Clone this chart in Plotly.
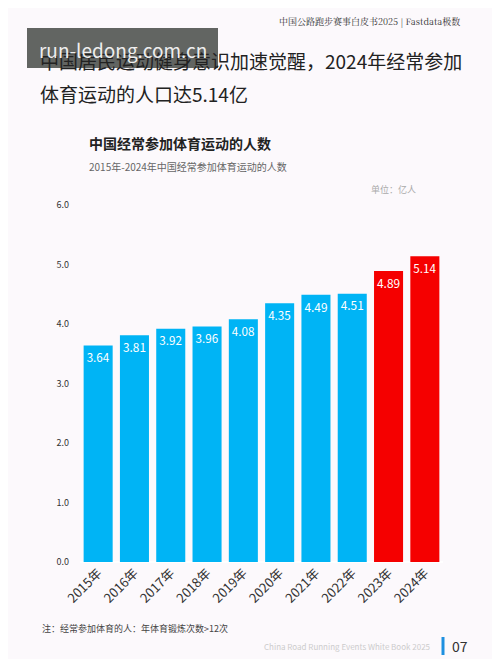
import plotly.graph_objects as go

years = ['2015年', '2016年', '2017年', '2018年', '2019年', '2020年', '2021年', '2022年', '2023年', '2024年']
values = [3.64, 3.81, 3.92, 3.96, 4.08, 4.35, 4.49, 4.51, 4.89, 5.14]
bar_colors = ['#00b4f5'] * 8 + ['#f50000'] * 2
tick_vals = [0, 1, 2, 3, 4, 5, 6]
tick_text = ['0.0', '1.0', '2.0', '3.0', '4.0', '5.0', '6.0']

# page body has an 8px margin, so size the figure to fit inside it
W, H = 484, 651
def px(x): return (x - 8) / W
def py(y): return 1 - (y - 8) / H

fig = go.Figure()
fig.add_trace(go.Bar(
    x=years, y=values, marker_color=bar_colors, marker_line_width=0,
    text=[f'{v:.2f}' for v in values], textposition='inside', insidetextanchor='end',
    textangle=0, cliponaxis=False,
    textfont=dict(color='white', size=12, family='Noto Sans CJK SC'),
))

fig.update_layout(
    width=W, height=H, margin=dict(l=0, r=0, t=0, b=0),
    paper_bgcolor='#fcf9fc', plot_bgcolor='#fcf9fc',
    bargap=0.2, showlegend=False,
    font=dict(family='Noto Sans CJK SC', color='#333'),
    xaxis=dict(domain=[px(80), px(443)], tickangle=-45, tickfont=dict(size=13, color='#333'),
               showgrid=False, ticks='', automargin=False),
    yaxis=dict(domain=[py(562), py(205)], range=[0, 6], tickvals=tick_vals, ticktext=tick_text,
               showgrid=False, tickfont=dict(size=9, color='#333'), ticklabelstandoff=10,
               automargin=False),
)

# header texts
fig.add_annotation(x=px(462), y=py(22), xref='paper', yref='paper', xanchor='right', yanchor='middle',
                   text='中国公路跑步赛事白皮书2025 | Fastdata极数', showarrow=False,
                   font=dict(size=9, color='#333', family='Noto Serif CJK SC, Noto Sans CJK SC'))
fig.add_annotation(x=px(38), y=py(60), xref='paper', yref='paper', xanchor='left', yanchor='middle',
                   text='中国居民运动健身意识加速觉醒，2024年经常参加', showarrow=False,
                   font=dict(size=19, color='#222'))
fig.add_annotation(x=px(38), y=py(93), xref='paper', yref='paper', xanchor='left', yanchor='middle',
                   text='体育运动的人口达5.14亿', showarrow=False,
                   font=dict(size=19, color='#222'))
fig.add_annotation(x=px(87), y=py(143), xref='paper', yref='paper', xanchor='left', yanchor='middle',
                   text='<b>中国经常参加体育运动的人数</b>', showarrow=False,
                   font=dict(size=14, color='#222'))
fig.add_annotation(x=px(87), y=py(167), xref='paper', yref='paper', xanchor='left', yanchor='middle',
                   text='2015年-2024年中国经常参加体育运动的人数', showarrow=False,
                   font=dict(size=10, color='#666'))
fig.add_annotation(x=px(418), y=py(190), xref='paper', yref='paper', xanchor='right', yanchor='middle',
                   text='单位：亿人', showarrow=False, font=dict(size=9, color='#aaa'))

# footer
fig.add_annotation(x=px(40), y=py(628), xref='paper', yref='paper', xanchor='left', yanchor='middle',
                   text='注：经常参加体育的人：年体育锻炼次数>12次', showarrow=False,
                   font=dict(size=9, color='#444'))
fig.add_annotation(x=px(432), y=py(646), xref='paper', yref='paper', xanchor='right', yanchor='middle',
                   text='China Road Running Events White Book 2025', showarrow=False,
                   font=dict(size=8, color='#ccc'))
fig.add_shape(type='line', xref='paper', yref='paper', x0=px(443), x1=px(443), y0=py(637), y1=py(655),
              line=dict(color='#1e90e0', width=3))
fig.add_annotation(x=px(450), y=py(646), xref='paper', yref='paper', xanchor='left', yanchor='middle',
                   text='07', showarrow=False, font=dict(size=14, color='#333'))

# watermark
fig.add_shape(type='rect', xref='paper', yref='paper', x0=px(27), x1=px(218), y0=py(68), y1=py(28),
              fillcolor='rgba(70,75,70,0.85)', line_width=0)
fig.add_annotation(x=px(37), y=py(49), xref='paper', yref='paper', xanchor='left', yanchor='middle',
                   text='run-ledong.com.cn', showarrow=False, font=dict(size=19, color='#eee'))

fig.write_html("out.html")
